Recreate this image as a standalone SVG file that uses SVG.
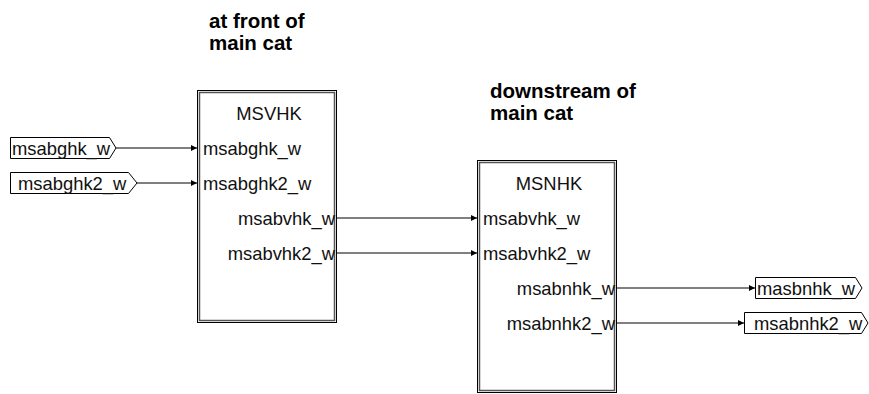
<svg xmlns="http://www.w3.org/2000/svg" width="869" height="394" viewBox="0 0 869 394">
<defs>
<style>
text{font-family:"Liberation Sans",Arial,sans-serif;fill:#111;}
.lbl{font-size:18.4px;}
.title{font-size:18.4px;}
.note{font-size:20.5px;font-weight:bold;fill:#000;}
.outer{fill:#fff;stroke:#000;stroke-width:1;}
.inner{fill:none;stroke:#555;stroke-width:1.5;}
.port{fill:#fff;stroke:#000;stroke-width:1;}
.wire{stroke:#000;stroke-width:1;fill:none;}
</style>
<marker id="arr" viewBox="0 0 6 6" refX="6" refY="3" markerWidth="6" markerHeight="6" markerUnits="userSpaceOnUse" orient="auto">
<path d="M0,0 L6,3 L0,6 Z" fill="#000"/>
</marker>
</defs>
<rect width="869" height="394" fill="#fff"/>
<g id="note1">
<text class="note" x="209" y="28">at front of</text>
<text class="note" x="209" y="50">main cat</text>
</g>
<g id="note2">
<text class="note" x="490" y="98">downstream of</text>
<text class="note" x="490" y="120">main cat</text>
</g>
<g id="connectors">
<line class="wire" x1="116" y1="148" x2="197" y2="148" marker-end="url(#arr)"/>
<line class="wire" x1="137" y1="183" x2="197" y2="183" marker-end="url(#arr)"/>
<line class="wire" x1="336" y1="218" x2="477" y2="218" marker-end="url(#arr)"/>
<line class="wire" x1="336" y1="253" x2="477" y2="253" marker-end="url(#arr)"/>
<line class="wire" x1="616" y1="288" x2="755" y2="288" marker-end="url(#arr)"/>
<line class="wire" x1="616" y1="323" x2="744" y2="323" marker-end="url(#arr)"/>
</g>
<g id="in_msabghk_w">
<path class="port" d="M10.5,137.5 H109.5 L116,148 L109.5,158.5 H10.5 Z"/>
<text class="lbl" x="12" y="155">msabghk_w</text>
</g>
<g id="in_msabghk2_w">
<path class="port" d="M10.5,172.5 H128.5 L137,183 L128.5,193.5 H10.5 Z"/>
<text class="lbl" x="18" y="190">msabghk2_w</text>
</g>
<g id="MSVHK">
<rect class="outer" x="197.5" y="90.5" width="139" height="232"/>
<rect class="inner" x="199.5" y="92.5" width="135" height="228"/>
<text class="title" x="269" y="120" text-anchor="middle">MSVHK</text>
<text class="lbl" x="203" y="155">msabghk_w</text>
<text class="lbl" x="203" y="190">msabghk2_w</text>
<text class="lbl" x="335" y="225" text-anchor="end">msabvhk_w</text>
<text class="lbl" x="335" y="260" text-anchor="end">msabvhk2_w</text>
</g>
<g id="MSNHK">
<rect class="outer" x="477.5" y="160.5" width="139" height="232"/>
<rect class="inner" x="479.5" y="162.5" width="135" height="228"/>
<text class="title" x="549" y="190" text-anchor="middle">MSNHK</text>
<text class="lbl" x="483" y="225">msabvhk_w</text>
<text class="lbl" x="483" y="260">msabvhk2_w</text>
<text class="lbl" x="615" y="295" text-anchor="end">msabnhk_w</text>
<text class="lbl" x="615" y="330" text-anchor="end">msabnhk2_w</text>
</g>
<g id="out_masbnhk_w">
<path class="port" d="M755.5,277.5 H855.5 L862,288 L855.5,298.5 H755.5 Z"/>
<text class="lbl" x="757" y="295">masbnhk_w</text>
</g>
<g id="out_msabnhk2_w">
<path class="port" d="M744.5,312.5 H861.5 L868,323 L861.5,333.5 H744.5 Z"/>
<text class="lbl" x="754" y="330">msabnhk2_w</text>
</g>
</svg>
